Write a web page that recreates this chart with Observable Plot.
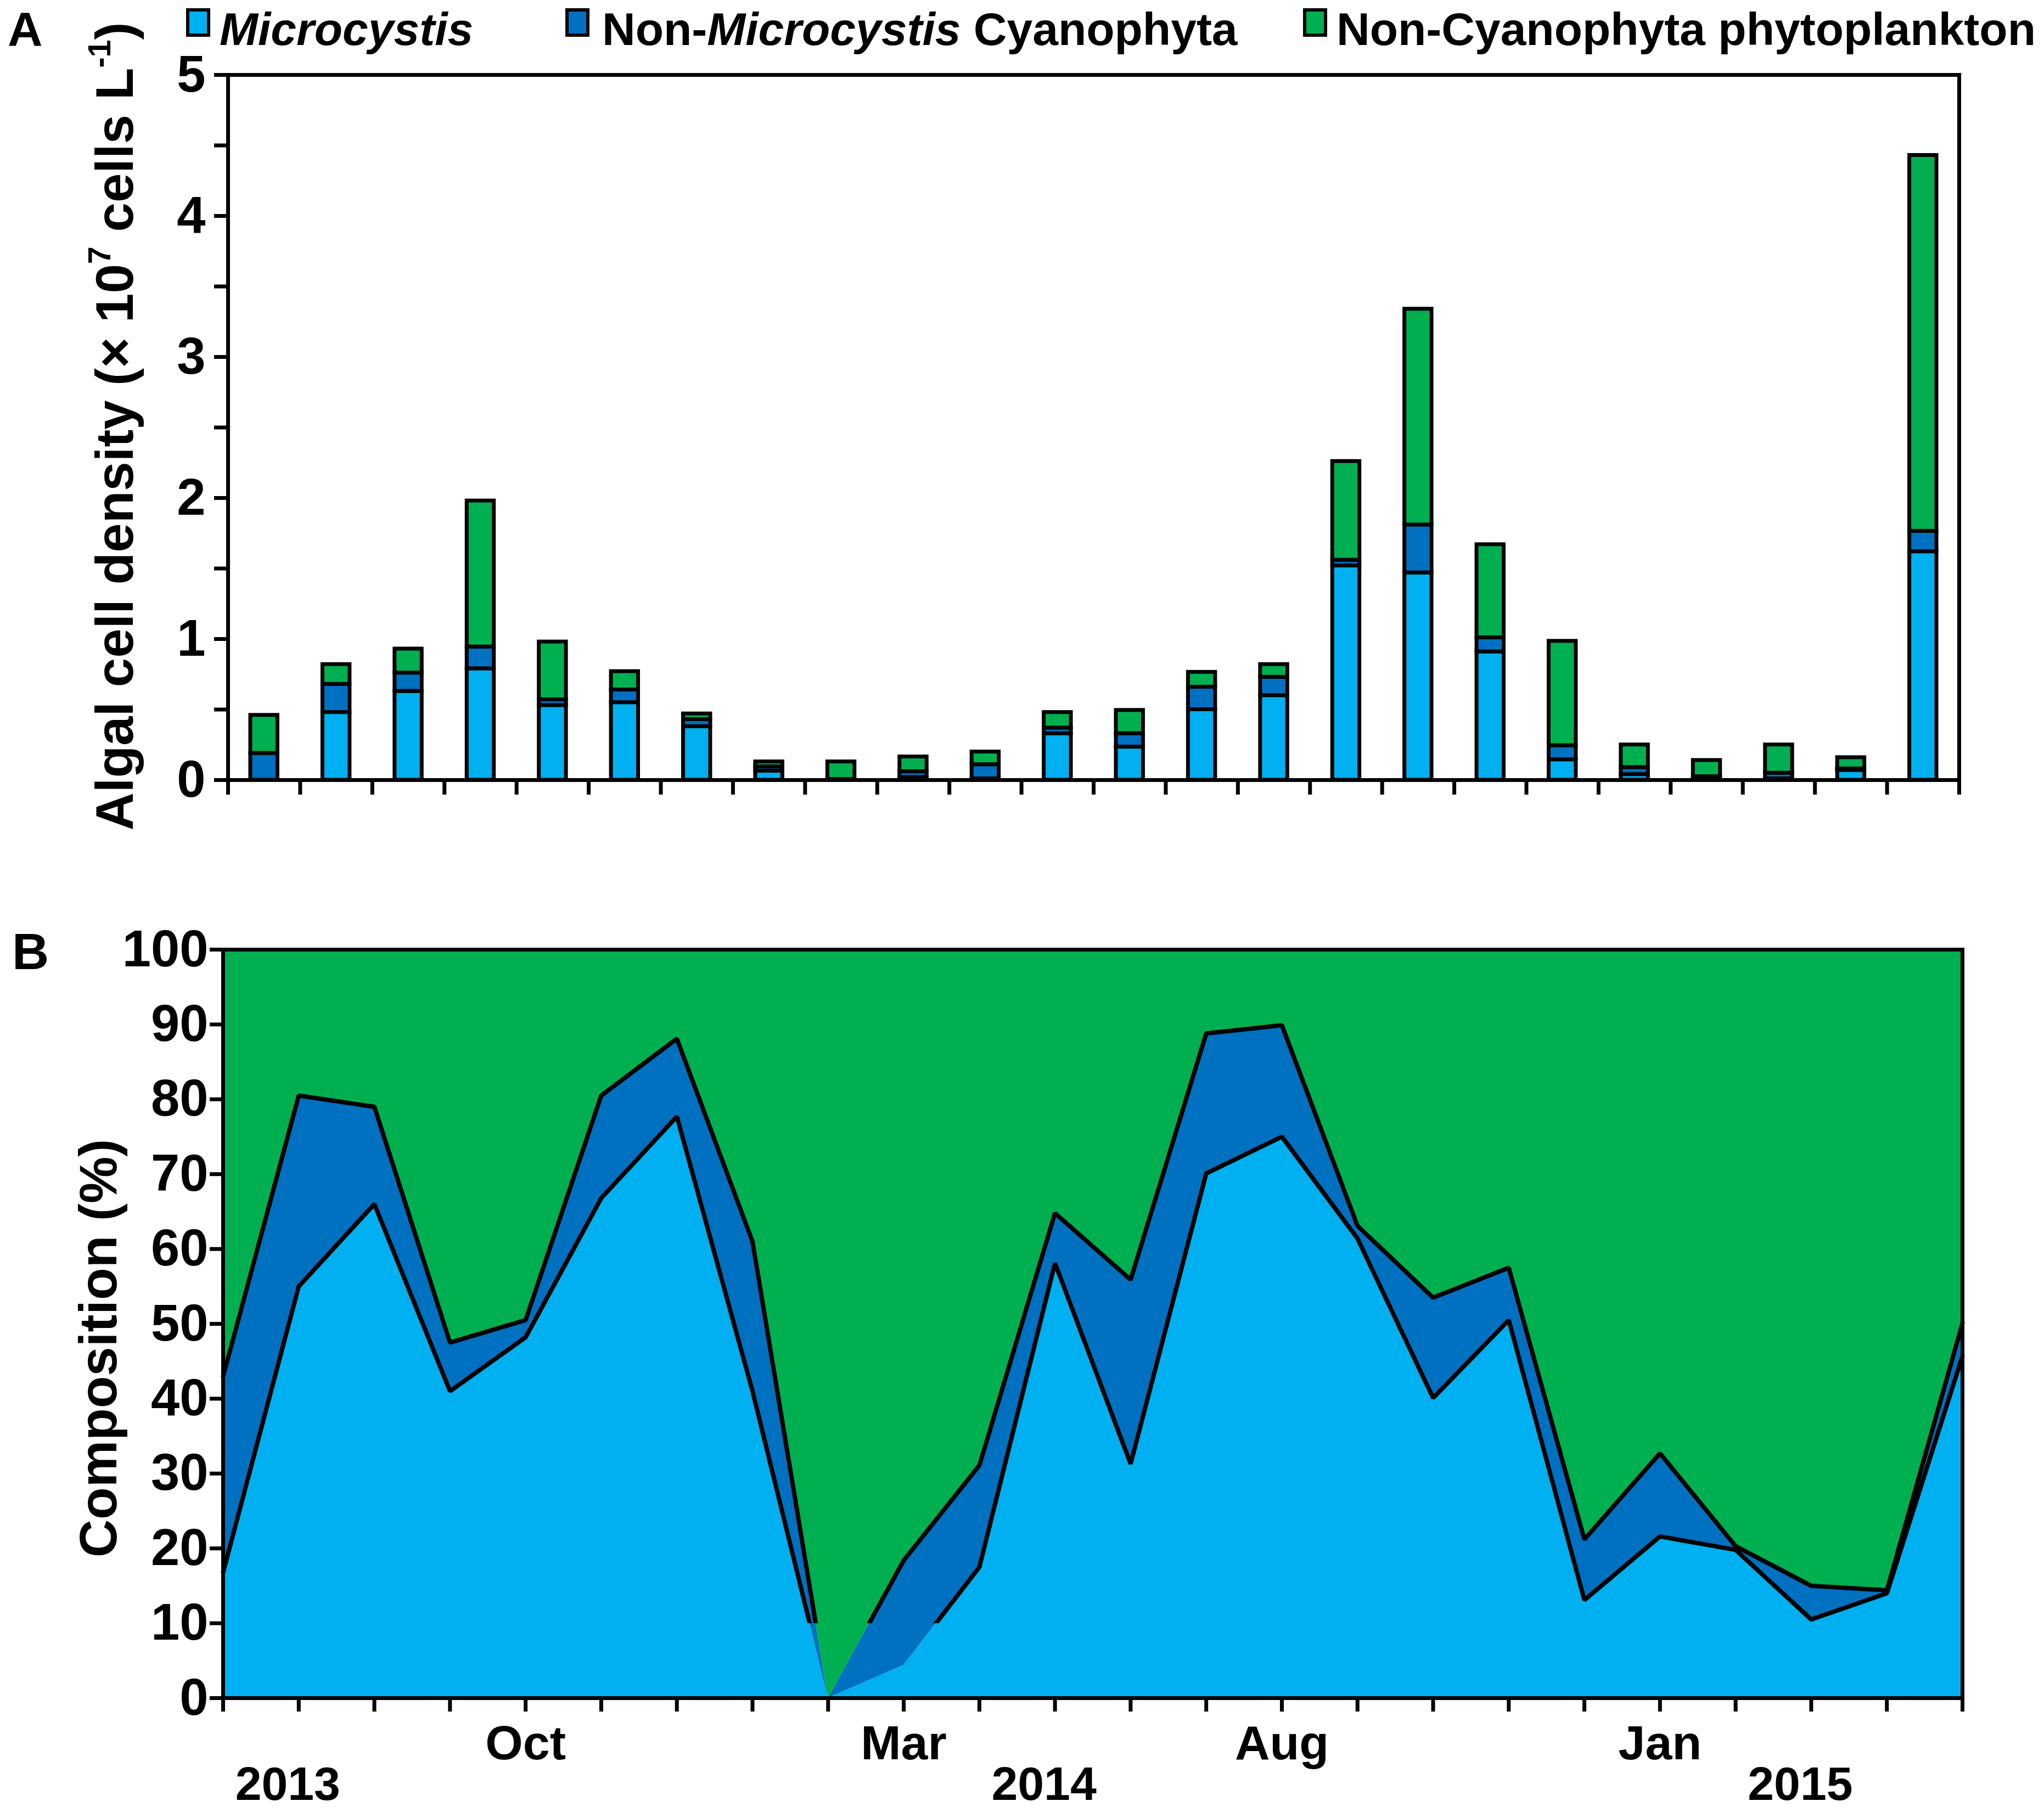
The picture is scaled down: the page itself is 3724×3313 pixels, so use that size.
<!DOCTYPE html>
<html>
<head>
<meta charset="utf-8">
<script src="https://cdn.jsdelivr.net/npm/d3@7"></script>
<script src="https://cdn.jsdelivr.net/npm/@observablehq/plot@0.6"></script>
<style>
  html, body { margin: 0; padding: 0; background: #fff; }
  #root { position: relative; width: 3724px; height: 3313px; overflow: hidden;
          font-family: "Liberation Sans", Arial, Helvetica, sans-serif; font-weight: bold; color: #000; }
  .abs { position: absolute; white-space: nowrap; line-height: 1; z-index: 2; }
  .sw { position: absolute; width: 44px; height: 52px; box-sizing: border-box; border: 6px solid #000; z-index: 2; }
  .chart { position: absolute; left: 0; z-index: 1; }
  .sup { font-size: 0.6em; position: relative; top: -0.72em; }
  .rot { transform: translate(-50%, -50%) rotate(-90deg); }
</style>
</head>
<body>
<div id="root"></div>
<script>
// ---------- data ----------
const months = ["Jun 2013","Jul 2013","Aug 2013","Sep 2013","Oct 2013","Nov 2013","Dec 2013",
                "Jan 2014","Feb 2014","Mar 2014","Apr 2014","May 2014","Jun 2014","Jul 2014","Aug 2014",
                "Sep 2014","Oct 2014","Nov 2014","Dec 2014","Jan 2015","Feb 2015","Mar 2015","Apr 2015","May 2015"];
const seriesNames = ["Microcystis", "Non-Microcystis Cyanophyta", "Non-Cyanophyta phytoplankton"];
const seriesColors = ["#00B0F0", "#0070C0", "#00B050"];

// Panel A: algal cell density (× 10^7 cells L^-1)
const densityMicro    = [0, 0.48, 0.63, 0.79, 0.53, 0.55, 0.38, 0.065, 0, 0.02, 0.01, 0.33, 0.235, 0.50, 0.60, 1.52, 1.47, 0.91, 0.145, 0.04, 0.005, 0.01, 0.07, 1.62];
const densityNonMicro = [0.19, 0.20, 0.13, 0.155, 0.04, 0.09, 0.05, 0.03, 0.005, 0.04, 0.10, 0.04, 0.095, 0.16, 0.13, 0.04, 0.34, 0.10, 0.10, 0.05, 0.02, 0.04, 0.01, 0.145];
const densityOther    = [0.27, 0.14, 0.17, 1.035, 0.41, 0.13, 0.04, 0.035, 0.125, 0.105, 0.09, 0.11, 0.165, 0.105, 0.09, 0.70, 1.53, 0.66, 0.74, 0.16, 0.115, 0.20, 0.08, 2.665];

// Panel B: composition (%)
const pctMicro    = [16.8, 55, 66, 41, 48.2, 66.8, 77.7, 41, 0, 4.4, 17.5, 58.1, 31.3, 70.1, 75, 61.4, 40.1, 50.5, 13.1, 21.6, 19.8, 10.5, 14, 45.7];
const pctNonMicro = [26.2, 25.5, 13, 6.5, 2.3, 13.7, 10.4, 20, 0, 14, 13.6, 6.7, 24.6, 18.7, 14.9, 1.7, 13.4, 7, 8.1, 11.1, 0.5, 4.5, 0.4, 4.4];
const pctOther    = [57, 19.5, 21, 52.5, 49.5, 19.5, 11.9, 39, 100, 81.6, 68.9, 35.2, 44.1, 11.2, 10.1, 36.9, 46.5, 42.5, 78.8, 67.3, 79.7, 85, 85.6, 49.9];

// tick labels
const yTicksA = [0, 0.5, 1, 1.5, 2, 2.5, 3, 3.5, 4, 4.5, 5];
const yTickLabelsA = ["0", "", "1", "", "2", "", "3", "", "4", "", "5"];
const yTicksB = [0, 10, 20, 30, 40, 50, 60, 70, 80, 90, 100];
const monthTickLabels = ["", "", "", "", "Oct", "", "", "", "", "Mar", "", "", "", "", "Aug", "", "", "", "", "Jan", "", "", "", ""];
const yearTickLabels  = ["", "2013", "", "", "", "", "", "", "", "", "", "2014", "", "", "", "", "", "", "", "", "", "2015", "", ""];

// ---------- tables ----------
function stackTable(arrays) {
  const t = [];
  months.forEach((m, i) => {
    let acc = 0;
    arrays.forEach((arr, s) => {
      t.push({i, i1: i + 1, month: m, series: seriesNames[s], y1: acc, y2: acc + arr[i]});
      acc += arr[i];
    });
  });
  return t;
}
const tableA = stackTable([densityMicro, densityNonMicro, densityOther]);
const tableB = stackTable([pctMicro, pctNonMicro, pctOther]);

// ---------- layout ----------
const W = 3724;
const fontFamily = '"Liberation Sans", Arial, Helvetica, sans-serif';
const baseStyle = {fontFamily, fontWeight: "bold", background: "transparent", overflow: "visible", color: "black"};
const root = document.getElementById("root");

// Panel A
const chartA = Plot.plot({
  width: W, height: 1560,
  marginTop: 136, marginBottom: 139, marginLeft: 415, marginRight: 155,
  x: {type: "linear", domain: [0, months.length]},
  y: {domain: [0, 5]},
  color: {domain: seriesNames, range: seriesColors},
  style: baseStyle,
  marks: [
    Plot.rect(tableA, {x1: "i", x2: "i1", y1: "y1", y2: "y2", fill: "series",
      stroke: "black", strokeWidth: 7, insetLeft: 41, insetRight: 41}),
    Plot.frame({stroke: "black", strokeWidth: 7}),
    Plot.axisY({ticks: yTicksA, tickFormat: (d) => yTickLabelsA[yTicksA.indexOf(d)],
      tickSize: 25, tickPadding: 16, strokeWidth: 7, fontSize: 94, label: null}),
    Plot.axisX({ticks: d3.range(0, months.length + 1), tickFormat: () => "",
      tickSize: 27, strokeWidth: 7, label: null})
  ]
});
chartA.classList.add("chart");
chartA.style.top = "0px";
root.appendChild(chartA);

// Panel B
const chartB = Plot.plot({
  width: W, height: 1713,
  marginTop: 130, marginBottom: 219, marginLeft: 406, marginRight: 149,
  x: {type: "linear", domain: [0, months.length - 1]},
  y: {domain: [0, 100]},
  color: {domain: seriesNames, range: seriesColors},
  style: baseStyle,
  marks: [
    Plot.areaY(tableB, {x: "i", y1: "y1", y2: "y2", fill: "series", z: "series"}),
    Plot.line(tableB.filter(d => d.series !== seriesNames[2]),
      {x: "i", y: "y2", z: "series", stroke: "black", strokeWidth: 8, strokeLinejoin: "miter"}),
    Plot.frame({stroke: "black", strokeWidth: 7}),
    Plot.axisY({ticks: yTicksB, tickSize: 24, tickPadding: 3, strokeWidth: 7, fontSize: 94, label: null}),
    Plot.axisX({ticks: d3.range(0, months.length), tickFormat: i => monthTickLabels[i],
      tickSize: 25, tickPadding: 24, strokeWidth: 7, fontSize: 88, label: null}),
    Plot.axisX({ticks: d3.range(0, months.length), tickFormat: i => yearTickLabels[i],
      tickSize: 0, tickPadding: 124, fontSize: 86, dx: -20, label: null})
  ]
});
chartB.classList.add("chart");
chartB.style.top = "1600px";
root.appendChild(chartB);

// the original drawing omits the outline strokes below 10 %
(function clipLines() {
  const svgNS = "http://www.w3.org/2000/svg";
  const cut = chartB.scale("y").apply(10);
  const defs = document.createElementNS(svgNS, "defs");
  const cp = document.createElementNS(svgNS, "clipPath");
  cp.setAttribute("id", "above10");
  const r = document.createElementNS(svgNS, "rect");
  r.setAttribute("x", 0); r.setAttribute("y", 0);
  r.setAttribute("width", W); r.setAttribute("height", cut);
  cp.appendChild(r); defs.appendChild(cp); chartB.insertBefore(defs, chartB.firstChild);
  chartB.querySelectorAll('g[aria-label="line"]').forEach(g => g.setAttribute("clip-path", "url(#above10)"));
})();

// ---------- HTML text: legend, panel labels, axis titles ----------
function add(html, css, cls = "abs") {
  const d = document.createElement("div");
  d.className = cls;
  d.innerHTML = html;
  Object.assign(d.style, css);
  root.appendChild(d);
  return d;
}
// legend
const legendItems = [
  {html: "<i>Microcystis</i>", sw: 339, tx: 400},
  {html: "Non-<i>Microcystis</i> Cyanophyta", sw: 1030, tx: 1097},
  {html: "Non-Cyanophyta phytoplankton", sw: 2374, tx: 2435}
];
legendItems.forEach((it, k) => {
  add("", {left: it.sw + "px", top: "15px", background: seriesColors[k]}, "sw");
  add(it.html, {left: it.tx + "px", top: "11px", fontSize: "84px"});
});
// panel labels
add("A", {left: "14px", top: "9px", fontSize: "88px"});
add("B", {left: "22px", top: "1688px", fontSize: "93px"});
// axis titles
add('Algal cell density (× 10<span class="sup">7</span> cells L<span class="sup">-1</span>)',
    {left: "209px", top: "777px", fontSize: "96px"}, "abs rot");
add("Composition (%)", {left: "179px", top: "2457px", fontSize: "96px"}, "abs rot");
</script>
</body>
</html>
